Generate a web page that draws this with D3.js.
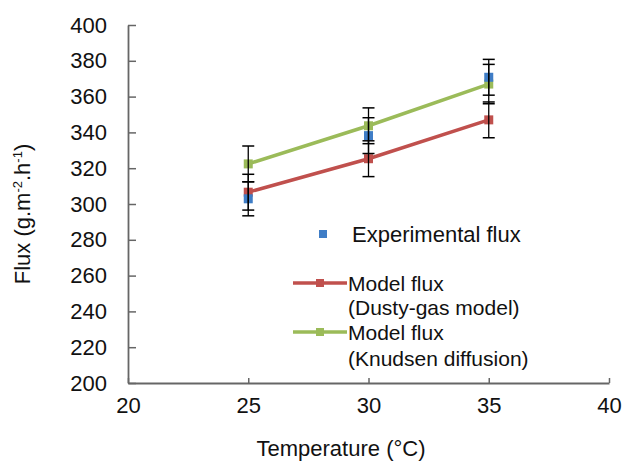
<!DOCTYPE html>
<html>
<head>
<meta charset="utf-8">
<script src="https://cdn.jsdelivr.net/npm/d3@7"></script>
<style>
  body { margin: 0; background: #fff; }
  text { font-family: "Liberation Sans", Arial, sans-serif; fill: #111; }
</style>
</head>
<body>
<div class="container"></div>
<script>
// ----- DATA -----
const temps = [25, 30, 35];
const expFlux = [302.9, 338.2, 370.8];
const expErr = [9.5, 10, 10];
const dustyFlux = [306.6, 325.3, 347];
const dustyErr = [10, 10, 10];
const knudsenFlux = [322.4, 343.7, 367];
const knudsenErr = [10, 10, 11];
const xTicks = [20, 25, 30, 35, 40];
const yTicks = [200, 220, 240, 260, 280, 300, 320, 340, 360, 380, 400];

const w = 636;
const h = 461;
const fs = 22;

// ----- SCALES -----
const xScale = d3.scaleLinear().domain([20, 40]).range([128, 609]);
const yScale = d3.scaleLinear().domain([200, 400]).range([383, 25]);

const svg = d3.select(".container")
  .append("svg")
  .attr("width", w)
  .attr("height", h);

// ----- AXES -----
const xAxis = d3.axisBottom(xScale).tickValues(xTicks).tickSizeInner(-5).tickSizeOuter(0).tickPadding(14);
const yAxis = d3.axisLeft(yScale).tickValues(yTicks).tickSizeInner(-8).tickSizeOuter(0).tickPadding(29);

const gx = svg.append("g")
  .attr("transform", "translate(0," + yScale(200) + ")")
  .call(xAxis);
const gy = svg.append("g")
  .attr("transform", "translate(" + xScale(20) + ",0)")
  .call(yAxis);

[gx, gy].forEach(g => {
  g.select(".domain").attr("stroke", "#666").attr("stroke-width", 1.8);
  g.selectAll(".tick line").attr("stroke", "#666").attr("stroke-width", 1.5);
  g.selectAll(".tick text")
    .attr("font-family", "Liberation Sans, Arial, sans-serif")
    .attr("font-size", fs)
    .attr("fill", "#111");
});
gy.selectAll(".tick text").attr("x", -21);

// ----- AXIS TITLES -----
svg.append("text")
  .attr("x", 341)
  .attr("y", 456)
  .attr("text-anchor", "middle")
  .attr("font-size", fs)
  .text("Temperature (°C)");

const yt = svg.append("text")
  .attr("transform", "translate(30," + 214 + ") rotate(-90)")
  .attr("text-anchor", "middle")
  .attr("font-size", fs);
yt.append("tspan").text("Flux (g.m");
yt.append("tspan").attr("font-size", 13).attr("dy", -8).text("-2");
yt.append("tspan").attr("dy", 8).text(".h");
yt.append("tspan").attr("font-size", 13).attr("dy", -8).text("-1");
yt.append("tspan").attr("dy", 8).text(")");

// ----- SERIES -----
const line = d3.line().x((d, i) => xScale(temps[i])).y(d => yScale(d));

const models = [
  { vals: dustyFlux, err: dustyErr, color: "#c0504d" },
  { vals: knudsenFlux, err: knudsenErr, color: "#9bbb59" }
];

models.forEach(m => {
  svg.append("path")
    .datum(m.vals)
    .attr("d", line)
    .attr("fill", "none")
    .attr("stroke", m.color)
    .attr("stroke-width", 3.5);
  svg.selectAll(null)
    .data(m.vals)
    .enter()
    .append("rect")
    .attr("x", (d, i) => xScale(temps[i]) - 4.5)
    .attr("y", d => yScale(d) - 4.5)
    .attr("width", 9)
    .attr("height", 9)
    .attr("fill", m.color);
});

svg.selectAll(null)
  .data(expFlux)
  .enter()
  .append("rect")
  .attr("x", (d, i) => xScale(temps[i]) - 4.5)
  .attr("y", d => yScale(d) - 4.5)
  .attr("width", 9)
  .attr("height", 9)
  .attr("fill", "#3f7dc6");

// ----- ERROR BARS -----
const allSeries = [
  { vals: expFlux, err: expErr },
  { vals: dustyFlux, err: dustyErr },
  { vals: knudsenFlux, err: knudsenErr }
];
allSeries.forEach(s => {
  s.vals.forEach((v, i) => {
    const x = xScale(temps[i]);
    const y1 = yScale(v - s.err[i]);
    const y2 = yScale(v + s.err[i]);
    svg.append("line").attr("x1", x).attr("x2", x).attr("y1", y1).attr("y2", y2)
      .attr("stroke", "#000").attr("stroke-width", 1.3);
    [y1, y2].forEach(y => {
      svg.append("line").attr("x1", x - 6).attr("x2", x + 6).attr("y1", y).attr("y2", y)
        .attr("stroke", "#000").attr("stroke-width", 1.5);
    });
  });
});

// ----- LEGEND -----
const leg = svg.append("g");
leg.append("rect").attr("x", 319).attr("y", 230).attr("width", 8).attr("height", 8).attr("fill", "#3f7dc6");
leg.append("text").attr("x", 352).attr("y", 242).attr("font-size", fs).text("Experimental flux");

[{ y: 283, color: "#c0504d", l1: "Model flux", l2: "(Dusty-gas model)", ty: 291, gap: 24 },
 { y: 332, color: "#9bbb59", l1: "Model flux", l2: "(Knudsen diffusion)", ty: 340, gap: 26 }].forEach(e => {
  leg.append("line").attr("x1", 293).attr("x2", 347).attr("y1", e.y).attr("y2", e.y)
    .attr("stroke", e.color).attr("stroke-width", 3.5);
  leg.append("rect").attr("x", 316).attr("y", e.y - 4).attr("width", 8).attr("height", 8).attr("fill", e.color);
  leg.append("text").attr("x", 348).attr("y", e.ty).attr("font-size", 21).text(e.l1);
  leg.append("text").attr("x", 348).attr("y", e.ty + e.gap).attr("font-size", 21).text(e.l2);
});
</script>
</body>
</html>
